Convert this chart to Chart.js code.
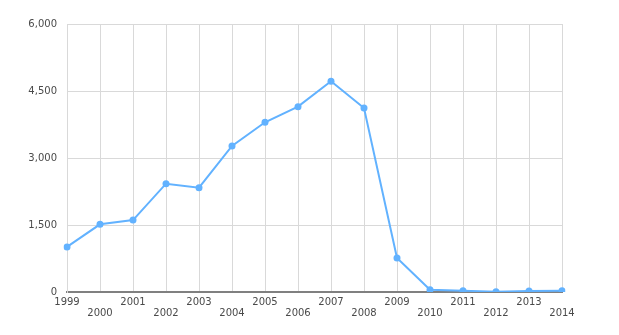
<!DOCTYPE html>
<html>
<head>
<meta charset="utf-8">
<script src="https://cdn.jsdelivr.net/npm/chart.js@4/dist/chart.umd.min.js"></script>
<style>
    html, body { margin: 0; padding: 0; background: #fff; }
    #wrap { width: 619px; height: 335px; }
</style>
</head>
<body>
<div id="wrap"><canvas id="chart"></canvas></div>
<script>
const years = ['1999', '2000', '2001', '2002', '2003', '2004', '2005', '2006',
    '2007', '2008', '2009', '2010', '2011', '2012', '2013', '2014'];
const values = [1010, 1515, 1610, 2425, 2335, 3270, 3800, 4150,
    4720, 4120, 760, 50, 30, 8, 22, 28];
const yTicks = [0, 1500, 3000, 4500, 6000];

const TEXT_COLOR = '#4a4a4a';
const GRID_COLOR = '#d9d9d9';
const LINE_COLOR = '#62b2ff';

Chart.defaults.font.family = '"DejaVu Sans", Verdana, sans-serif';
Chart.defaults.font.size = 10;
Chart.defaults.color = TEXT_COLOR;

new Chart(document.getElementById('chart'), {
    type: 'line',
    data: {
        labels: years,
        datasets: [{
            data: values,
            borderColor: LINE_COLOR,
            backgroundColor: LINE_COLOR,
            borderWidth: 2,
            pointRadius: 3.5,
            pointHoverRadius: 3.5,
            pointBorderWidth: 0,
            tension: 0,
            fill: false,
        }],
    },
    options: {
        responsive: true,
        maintainAspectRatio: false,
        animation: false,
        layout: {
            padding: { top: 24, right: 57, bottom: 0, left: 0 },
        },
        plugins: {
            legend: { display: false },
            tooltip: { enabled: false },
        },
        scales: {
            x: {
                offset: false,
                grid: { color: GRID_COLOR, drawTicks: false },
                border: { color: '#808080', width: 2 },
                ticks: {
                    autoSkip: false,
                    maxRotation: 0,
                    padding: 5,
                    font: { size: 10, lineHeight: '11px' },
                    // odd years on the first row, even years on the second
                    callback: (value, index) => (index % 2 === 0 ? [years[index], ''] : ['', years[index]]),
                },
                afterFit: (scale) => { scale.height = 43; },
            },
            y: {
                min: 0,
                max: 6000,
                afterBuildTicks: (scale) => { scale.ticks = yTicks.map((v) => ({ value: v })); },
                grid: { color: GRID_COLOR, drawTicks: false },
                border: { color: GRID_COLOR },
                ticks: {
                    padding: 10,
                    callback: (value) => value.toLocaleString('en-US'),
                },
                afterFit: (scale) => { scale.width = 67; },
            },
        },
    },
});
</script>
</body>
</html>
